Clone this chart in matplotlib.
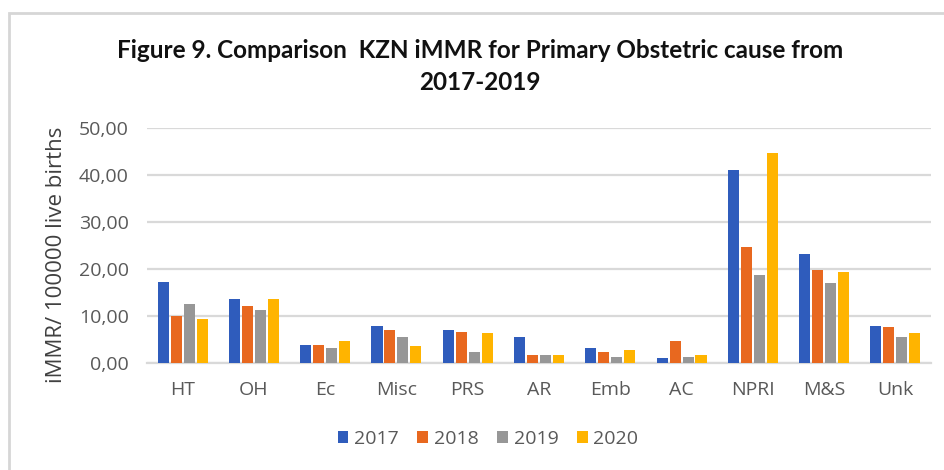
import numpy as np
import matplotlib
matplotlib.use('Agg')
import matplotlib.pyplot as plt
from matplotlib.patches import Rectangle
from matplotlib.ticker import FuncFormatter

# values (iMMR per 100000 live births)
causes = ['HT', 'OH', 'Ec', 'Misc', 'PRS', 'AR', 'Emb', 'AC', 'NPRI', 'M&S', 'Unk']
years = ['2017', '2018', '2019', '2020']
v2017 = [17.3, 13.7, 3.8, 7.9, 7.1, 5.6, 3.3, 1.1, 41.0, 23.1, 7.85]
v2018 = [10.05, 12.1, 3.8, 7.1, 6.6, 1.8, 2.3, 4.7, 24.6, 19.7, 7.6]
v2019 = [12.6, 11.25, 3.25, 5.6, 2.3, 1.8, 1.3, 1.35, 18.8, 17.0, 5.5]
v2020 = [9.4, 13.6, 4.7, 3.75, 6.4, 1.8, 2.8, 1.8, 44.7, 19.4, 6.4]

series = [v2017, v2018, v2019, v2020]
colors = ['#2F5CBC', '#E8681F', '#979797', '#FFB400']

lbl_font = ['Open Sans', 'DejaVu Sans']
title_font = ['Lato', 'DejaVu Sans']
grey = '#595959'

fig = plt.figure(figsize=(9.45, 4.70), dpi=100)
# light frame round the chart area
fig.patches.append(Rectangle((9 / 945, -0.1), 1.0, 1.1 - 13 / 470,
                             transform=fig.transFigure, fill=False,
                             edgecolor='#D6D6D6', linewidth=2.0))

ax = fig.add_axes([147 / 945, 1 - 363.3 / 470, (931 - 147) / 945, (363.3 - 127.7) / 470])

x = np.arange(len(causes))
step = 0.182
width = 0.155
for i, (vals, col, yr) in enumerate(zip(series, colors, years)):
    ax.bar(x + (i - 1.5) * step, vals, width, color=col, label=yr, zorder=3)

ax.set_xlim(-0.5, len(causes) - 0.5)
ax.set_ylim(0, 50)
ax.set_yticks(np.arange(0, 51, 10))
ax.yaxis.set_major_formatter(FuncFormatter(lambda v, p: ('%.2f' % v).replace('.', ',')))
ax.grid(axis='y', color='#D9D9D9', linewidth=1.6, zorder=0)
ax.set_axisbelow(True)
for s in ['top', 'right', 'left']:
    ax.spines[s].set_visible(False)
ax.spines['bottom'].set_color('#D9D9D9')
ax.spines['bottom'].set_linewidth(1.6)
ax.tick_params(length=0, pad=13, labelsize=14, labelcolor=grey)
ax.set_xticks(x)
ax.set_xticklabels(causes)
for t in ax.get_xticklabels() + ax.get_yticklabels():
    t.set_family(lbl_font)

ax.set_ylabel('iMMR/ 100000 live births', fontsize=16, color='#404040', family=lbl_font)
ax.yaxis.set_label_coords(-0.102, 0.46)

fig.text(480 / 945, 1 - 50 / 470, 'Figure 9. Comparison  KZN iMMR for Primary Obstetric cause from',
         ha='center', va='center', fontsize=17.5, fontweight='bold', color='#111111', family=title_font)
fig.text(480 / 945, 1 - 83 / 470, '2017-2019',
         ha='center', va='center', fontsize=17.5, fontweight='bold', color='#111111', family=title_font)

leg = fig.legend(loc='center', bbox_to_anchor=(488 / 945, 1 - 439 / 470), ncol=4, frameon=False,
                 handlelength=0.55, handleheight=0.55, handletextpad=0.3, columnspacing=0.95,
                 prop={'family': lbl_font, 'size': 14})
for t in leg.get_texts():
    t.set_color(grey)

fig.savefig('out.png', dpi=100)
